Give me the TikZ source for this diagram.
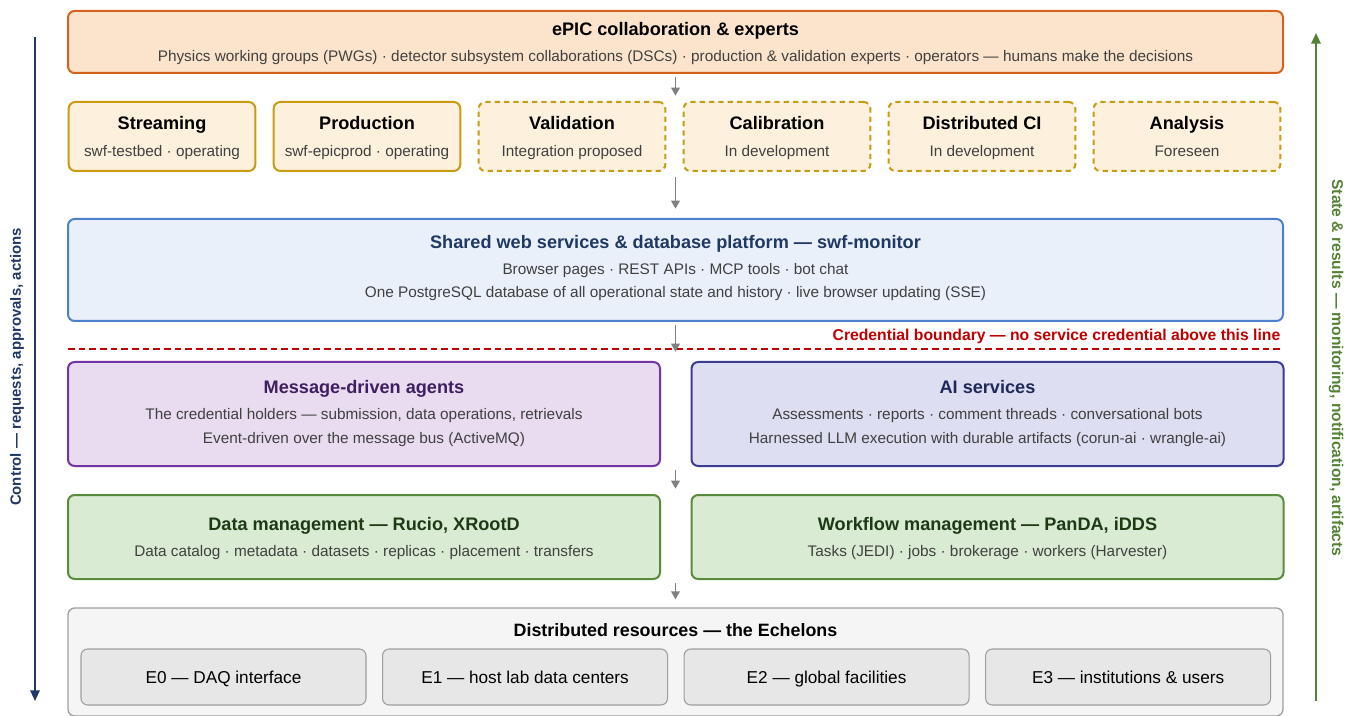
\documentclass[tikz,border=0pt]{standalone}
\usepackage{fontspec}
\setmainfont{Liberation Sans}
\usetikzlibrary{positioning,arrows.meta}

\definecolor{epicfill}{HTML}{FCE4CC}
\definecolor{epicline}{HTML}{D5621C}
\definecolor{stagefill}{HTML}{FDF1DE}
\definecolor{stageline}{HTML}{C89B12}
\definecolor{webfill}{HTML}{EAF0FA}
\definecolor{webline}{HTML}{4D7FCB}
\definecolor{webtext}{HTML}{1F3864}
\definecolor{agentfill}{HTML}{E9DCF0}
\definecolor{agentline}{HTML}{7433A3}
\definecolor{agenttext}{HTML}{3F1F5F}
\definecolor{aifill}{HTML}{DDDEF1}
\definecolor{ailine}{HTML}{3B3D8E}
\definecolor{aitext}{HTML}{1F2A5A}
\definecolor{dmfill}{HTML}{DAEBD3}
\definecolor{dmline}{HTML}{5A8A3A}
\definecolor{dmtext}{HTML}{1E3A14}
\definecolor{resfill}{HTML}{F5F5F5}
\definecolor{resline}{HTML}{9E9E9E}
\definecolor{tierfill}{HTML}{E7E7E7}
\definecolor{subtext}{HTML}{404040}
\definecolor{credred}{HTML}{C00000}
\definecolor{ctrlblue}{HTML}{1F3864}
\definecolor{stategreen}{HTML}{548235}

\newcommand{\ttl}[1]{{\fontsize{13.6}{14}\selectfont\bfseries\vphantom{Ay}#1}}
\newcommand{\sub}[1]{{\color{subtext}\vphantom{Ay}#1}}

\begin{document}
\begin{tikzpicture}[x=0.75pt, y=-0.75pt,
    box/.style={draw, line width=1.5pt, rounded corners=5pt, align=center, inner sep=0pt,
      font=\fontsize{11.5}{14}\selectfont},
    stagebox/.style={box, draw=stageline, fill=stagefill, minimum width=140pt,
      minimum height=51.75pt, text depth=-2.5pt},
    planned/.style={stagebox, dashed, dash pattern=on 4pt off 3pt},
    wide/.style={box, minimum width=911.25pt},
    half/.style={box, minimum width=444pt},
    tier/.style={draw=resline, fill=tierfill, line width=0.8pt, rounded corners=5pt,
      minimum width=213.75pt, minimum height=42pt, text height=9.5pt, text depth=-0.5pt,
      font=\fontsize{12.9}{15}\selectfont},
    flow/.style={draw=gray, line width=1.1pt, -{Triangle[length=6pt,width=6.5pt]}}]

\useasboundingbox (0,0) rectangle (1353,716);

% people at the top
\node[wide, draw=epicline, fill=epicfill, minimum height=46.5pt, text depth=-6pt] (epic) at (675.5,42)
  {\ttl{ePIC collaboration \& experts}\\[5.5pt]
   \sub{Physics working groups (PWGs) · detector subsystem collaborations (DSCs) · production \& validation experts · operators — humans make the decisions}};

% activities
\node[stagebox] (streaming) at (162,136.5) {\ttl{Streaming}\\[6pt]\sub{swf-testbed · operating}};
\node[stagebox, right=12.25pt of streaming] (production) {\ttl{Production}\\[6pt]\sub{swf-epicprod · operating}};
\node[planned, right=12.25pt of production] (validation) {\ttl{Validation}\\[6pt]\sub{Integration proposed}};
\node[planned, right=12.25pt of validation] (calibration) {\ttl{Calibration}\\[6pt]\sub{In development}};
\node[planned, right=12.25pt of calibration] (distci) {\ttl{Distributed CI}\\[6pt]\sub{In development}};
\node[planned, right=12.25pt of distci] (analysis) {\ttl{Analysis}\\[6pt]\sub{Foreseen}};

% platform
\node[wide, draw=webline, fill=webfill, minimum height=76.5pt, text depth=5.5pt] (web) at (675.5,270)
  {\ttl{\color{webtext}Shared web services \& database platform — swf-monitor}\\[5.5pt]
   \sub{Browser pages · REST APIs · MCP tools · bot chat}\\[3.5pt]
   \sub{One PostgreSQL database of all operational state and history · live browser updating (SSE)}};

% credential boundary
\draw[credred, line width=1.1pt, dash pattern=on 5pt off 3pt] (68,349) -- (1283,349);
\node[anchor=east, text=credred, font=\fontsize{11.8}{13}\selectfont\bfseries] (boundary) at (1285,336)
  {Credential boundary — no service credential above this line};

% services
\node[half, draw=agentline, fill=agentfill, minimum height=78pt] (agents) at (364,414)
  {\ttl{\color{agenttext}Message-driven agents}\\[5.5pt]
   \sub{The credential holders — submission, data operations, retrievals}\\[4pt]
   \sub{Event-driven over the message bus (ActiveMQ)}};
\node[half, draw=ailine, fill=aifill, minimum height=78pt] (ai) at (987.5,414)
  {\ttl{\color{aitext}AI services}\\[5.5pt]
   \sub{Assessments · reports · comment threads · conversational bots}\\[4pt]
   \sub{Harnessed LLM execution with durable artifacts (corun-ai · wrangle-ai)}};

\node[half, draw=dmline, fill=dmfill, minimum height=63pt, text depth=-2.5pt] (data) at (364,537)
  {\ttl{\color{dmtext}Data management — Rucio, XRootD}\\[6pt]
   \sub{Data catalog · metadata · datasets · replicas · placement · transfers}};
\node[half, draw=dmline, fill=dmfill, minimum height=63pt, text depth=-2.5pt] (workflow) at (987.5,537)
  {\ttl{\color{dmtext}Workflow management — PanDA, iDDS}\\[6pt]
   \sub{Tasks (JEDI) · jobs · brokerage · workers (Harvester)}};

% echelons
\node[wide, draw=resline, fill=resfill, line width=1pt, minimum height=81pt] (res) at (675.5,662) {};
\node[font=\fontsize{13.4}{15}\selectfont\bfseries] (restitle) at (675.5,630) {Distributed resources — the Echelons};
\node[tier] (e0) at (223.5,677) {E0 — DAQ interface};
\node[tier, right=11.6pt of e0] (e1) {E1 — host lab data centers};
\node[tier, right=11.6pt of e1] (e2) {E2 — global facilities};
\node[tier, right=11.6pt of e2] (e3) {E3 — institutions \& users};

% downward flow
\draw[flow, shorten <=2pt, shorten >=4pt] (epic.south) -- (epic.south |- validation.north);
\draw[flow, shorten <=4pt, shorten >=7pt] (epic.south |- validation.south) -- (web.north);
\draw[flow, shorten <=2pt, shorten >=7pt] (web.south) -- (web.south |- agents.north);
\draw[flow, shorten <=2pt, shorten >=4pt] (web.south |- agents.south) -- (web.south |- data.north);
\draw[flow, shorten <=2pt, shorten >=6pt] (web.south |- data.south) -- (res.north);

% side arrows
\coordinate (ctrltop) at (35,37);
\coordinate (ctrlbot) at (35,701);
\draw[ctrlblue, line width=1.5pt, -{Triangle[length=8pt,width=7pt]}] (ctrltop) -- (ctrlbot);
\node[rotate=90, text=ctrlblue, font=\fontsize{11.2}{12}\selectfont\bfseries] (ctrl) at (17,367)
  {Control — requests, approvals, actions};

\coordinate (statebot) at (1316,701);
\coordinate (statetop) at (1316,33);
\draw[stategreen, line width=1.5pt, -{Triangle[length=8pt,width=7pt]}] (statebot) -- (statetop);
\node[rotate=-90, text=stategreen, font=\fontsize{11.7}{12}\selectfont\bfseries] (state) at (1336,368)
  {State \& results — monitoring, notification, artifacts};

\end{tikzpicture}
\end{document}
